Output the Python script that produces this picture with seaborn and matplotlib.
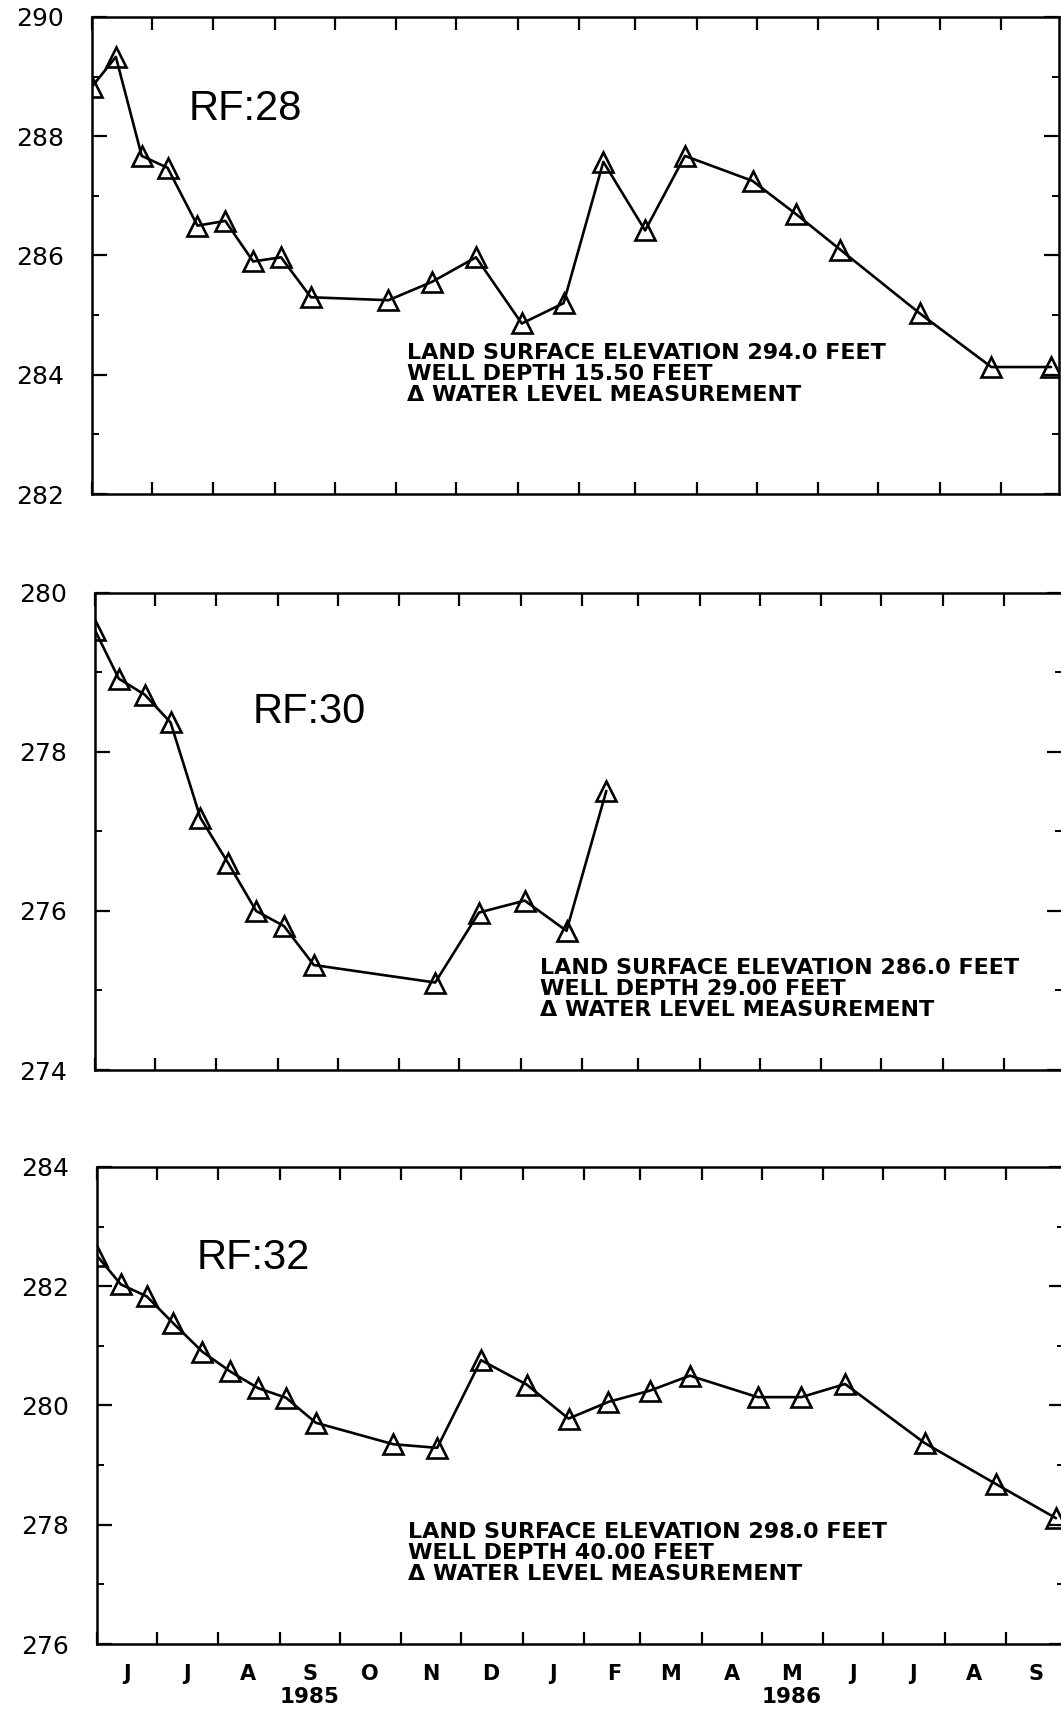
import pandas as pd
import seaborn as sns
import matplotlib.pyplot as plt
import matplotlib.dates as mdates
from matplotlib.ticker import MultipleLocator, FuncFormatter, NullFormatter

# measurement dates shared by wells RF:28 and RF:32
dates = ['1985-06-01', '1985-06-13', '1985-06-26', '1985-07-09', '1985-07-24',
         '1985-08-07', '1985-08-21', '1985-09-04', '1985-09-19', '1985-10-28',
         '1985-11-19', '1985-12-11', '1986-01-03', '1986-01-24', '1986-02-13',
         '1986-03-06', '1986-03-26', '1986-04-29', '1986-05-21', '1986-06-12',
         '1986-07-22', '1986-08-27', '1986-09-26']

rf28 = [288.83, 289.33, 287.67, 287.47, 286.50, 286.58, 285.90, 285.97, 285.30,
        285.25, 285.56, 285.97, 284.86, 285.20, 287.57, 286.42, 287.67, 287.25,
        286.69, 286.10, 285.03, 284.13, 284.13]

rf32 = [282.51, 282.03, 281.83, 281.39, 280.90, 280.57, 280.29, 280.13, 279.71,
        279.35, 279.29, 280.76, 280.35, 279.78, 280.06, 280.25, 280.50, 280.14,
        280.14, 280.36, 279.37, 278.68, 278.11]

# RF:30 was not measured in late October and stops in February
dates_rf30 = ['1985-06-01', '1985-06-13', '1985-06-26', '1985-07-09', '1985-07-24',
              '1985-08-07', '1985-08-21', '1985-09-04', '1985-09-19', '1985-11-19',
              '1985-12-11', '1986-01-03', '1986-01-24', '1986-02-13']
rf30 = [279.53, 278.92, 278.72, 278.37, 277.17, 276.60, 276.00, 275.81, 275.32,
        275.10, 275.98, 276.13, 275.75, 277.51]

well_names = ['RF:28', 'RF:30', 'RF:32']
y_ranges = [(282, 290), (274, 280), (276, 284)]
notes = ['LAND SURFACE ELEVATION 294.0 FEET\nWELL DEPTH 15.50 FEET\nΔ WATER LEVEL MEASUREMENT',
         'LAND SURFACE ELEVATION 286.0 FEET\nWELL DEPTH 29.00 FEET\nΔ WATER LEVEL MEASUREMENT',
         'LAND SURFACE ELEVATION 298.0 FEET\nWELL DEPTH 40.00 FEET\nΔ WATER LEVEL MEASUREMENT']

frames = [pd.DataFrame({'date': pd.to_datetime(dates), 'level': rf28}),
          pd.DataFrame({'date': pd.to_datetime(dates_rf30), 'level': rf30}),
          pd.DataFrame({'date': pd.to_datetime(dates), 'level': rf32})]

sns.set_style('ticks')
plt.rcParams['font.family'] = ['DejaVu Sans']
for key in ['text.color', 'xtick.color', 'ytick.color', 'axes.labelcolor', 'axes.edgecolor']:
    plt.rcParams[key] = 'black'

fig = plt.figure(figsize=(10.61, 17.09), dpi=100)

# panel boxes in figure fractions (the scanned panels are slightly offset)
lefts = [0.0867, 0.0895, 0.0914]
bottoms = [0.7109, 0.3739, 0.038]
name_pos = [(0.100, 0.806), (0.163, 0.751), (0.103, 0.810)]
note_pos = [(0.326, 0.252), (0.460, 0.170), (0.322, 0.190)]

for i, df in enumerate(frames):
    ax = fig.add_axes([lefts[i], bottoms[i], 0.9114, 0.2792])
    sns.lineplot(data=df, x='date', y='level', ax=ax, color='black', lw=1.9,
                 marker='^', markersize=14, markerfacecolor='none',
                 markeredgecolor='black', markeredgewidth=1.9)

    ax.set_xlim(pd.Timestamp('1985-06-01'), pd.Timestamp('1986-09-30'))
    ax.set_ylim(*y_ranges[i])
    ax.set_xlabel('')
    ax.set_ylabel('')

    ax.yaxis.set_major_locator(MultipleLocator(2))
    ax.yaxis.set_minor_locator(MultipleLocator(1))
    ax.xaxis.set_major_locator(mdates.MonthLocator())
    ax.xaxis.set_major_formatter(NullFormatter())
    ax.xaxis.set_minor_locator(mdates.MonthLocator(bymonthday=16))
    if i == 2:
        ax.xaxis.set_minor_formatter(FuncFormatter(
            lambda v, p: mdates.num2date(v).strftime('%b')[0]))
    else:
        ax.xaxis.set_minor_formatter(NullFormatter())

    ax.tick_params(axis='both', which='both', direction='in', top=True, right=True)
    ax.tick_params(axis='y', which='major', length=11, width=1.6, labelsize=18, pad=20)
    ax.tick_params(axis='y', which='minor', length=5, width=1.4)
    ax.tick_params(axis='x', which='major', length=9, width=1.6)
    ax.tick_params(axis='x', which='minor', length=0, labelsize=15, pad=14)
    for lab in ax.get_xticklabels(minor=True):
        lab.set_fontweight('bold')

    for s in ax.spines.values():
        s.set_linewidth(1.8)

    ax.text(name_pos[i][0], name_pos[i][1], well_names[i], transform=ax.transAxes,
            fontsize=30, family='Liberation Sans', va='center', ha='left')
    ax.text(note_pos[i][0], note_pos[i][1], notes[i], transform=ax.transAxes,
            fontsize=16, fontweight='bold', va='center', ha='left', linespacing=1.06)

    if i == 2:
        tr = ax.get_xaxis_transform()
        ax.text(pd.Timestamp('1985-09-16'), -0.112, '1985', transform=tr,
                fontsize=15.5, fontweight='bold', ha='center', va='center')
        ax.text(pd.Timestamp('1986-05-16'), -0.112, '1986', transform=tr,
                fontsize=15.5, fontweight='bold', ha='center', va='center')

fig.savefig('out.png', dpi=100)
